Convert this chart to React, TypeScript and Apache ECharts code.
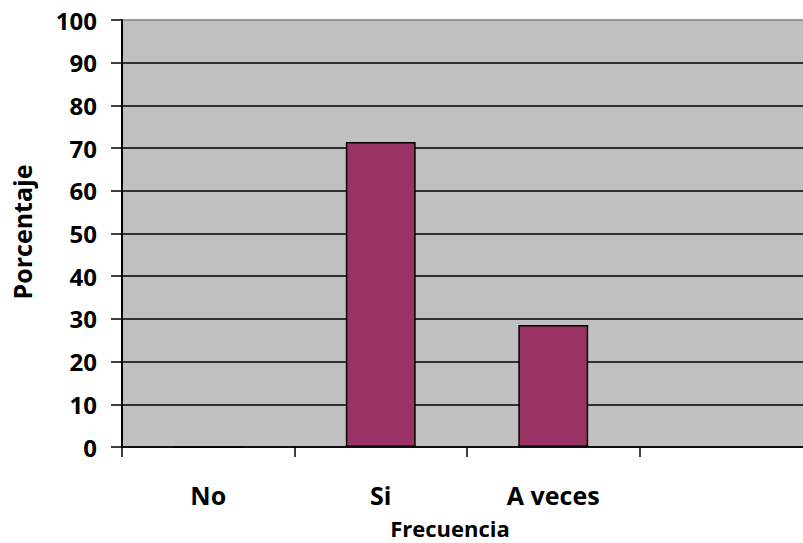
import React, { useEffect, useRef } from "react";
import * as echarts from "echarts";

const categories = ["No", "Si", "A veces", ""];
const percentages = [0, 71.4, 28.6, null];
const yTicks = [0, 10, 20, 30, 40, 50, 60, 70, 80, 90, 100];

const FONT = "'Open Sans', 'Liberation Sans', sans-serif";

export default function App() {
  const ref = useRef<HTMLDivElement>(null);

  useEffect(() => {
    document.body.style.margin = "0";
    if (!ref.current) return;
    const chart = echarts.init(ref.current, null, { renderer: "svg" });

    // gridlines are black, except the top boundary which reads as the gray plot frame
    const splitColors = yTicks.map((v) => (v === 100 ? "#808080" : "#000000"));

    chart.setOption({
      animation: false,
      backgroundColor: "#ffffff",
      grid: { left: 122, top: 20, width: 690, height: 427, containLabel: false,
        show: true, backgroundColor: "#c0c0c0", borderWidth: 0 },
      xAxis: {
        type: "category",
        data: categories,
        boundaryGap: true,
        axisLine: { show: true, lineStyle: { color: "#000", width: 1.5 } },
        axisTick: { show: true, alignWithLabel: false, length: 10, lineStyle: { color: "#000", width: 1.5 } },
        axisLabel: { margin: 35, color: "#000", fontFamily: FONT, fontWeight: "bold", fontSize: 25 },
        splitLine: { show: false },
      },
      yAxis: {
        type: "value",
        min: 0,
        max: 100,
        interval: 10,
        axisLine: { show: true, lineStyle: { color: "#000", width: 2 } },
        axisTick: { show: true, length: 11, lineStyle: { color: "#000", width: 1.5 } },
        axisLabel: { margin: 25, color: "#000", fontFamily: FONT, fontWeight: "bold", fontSize: 24 },
        splitLine: { show: true, lineStyle: { color: splitColors, width: 1.5 } },
      },
      series: [
        {
          type: "bar",
          data: percentages,
          barWidth: "40.5%",
          itemStyle: { color: "#993366", borderColor: "#000", borderWidth: 1.5 },
        },
      ],
      graphic: [
        {
          type: "text",
          x: 450,
          y: 528,
          style: { text: "Frecuencia", fill: "#000", font: `bold 22px ${FONT}`, textAlign: "center", textVerticalAlign: "middle" },
        },
        {
          type: "text",
          x: 22,
          y: 232,
          rotation: Math.PI / 2,
          style: { text: "Porcentaje", fill: "#000", font: `bold 25px ${FONT}`, textAlign: "center", textVerticalAlign: "middle" },
        },
      ],
    });

    return () => chart.dispose();
  }, []);

  // the plot area runs a little past the right edge of the visible frame
  return (
    <div style={{ width: 803, height: 543, overflow: "hidden", position: "relative" }}>
      <div ref={ref} style={{ width: 830, height: 543 }} />
    </div>
  );
}
